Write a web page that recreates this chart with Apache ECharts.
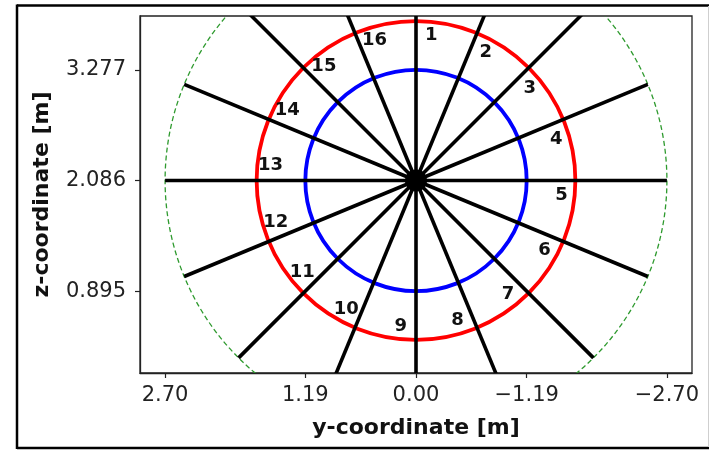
<!DOCTYPE html>
<html>
<head>
<meta charset="utf-8">
<script src="https://cdn.jsdelivr.net/npm/echarts@6/dist/echarts.min.js"></script>
<style>
  html, body { margin: 0; padding: 0; background: #ffffff; }
  #chart { width: 713px; height: 450px; }
</style>
</head>
<body>
<div id="chart"></div>
<script>
// Cross-section geometry (metres)
const sectionCenter = [0, 2.086];          // [y, z] of the centre
const innerRadius = 1.191;                 // blue ring
const outerRadius = 1.715;                 // red ring
const boundaryRadius = 2.70;               // green dashed boundary
const rayLength = 2.70;                    // length of each numbered ray
const rayIds = [1, 2, 3, 4, 5, 6, 7, 8, 9, 10, 11, 12, 13, 14, 15, 16];
const rayStepDeg = 22.5;                   // angular spacing of the rays

// Axis ranges and tick positions
const yCoordRange = [-2.97, 2.97];
const zCoordRange = [0.014, 3.856];
const yCoordTicks = [2.70, 1.191, 0, -1.191, -2.70];
const zCoordTicks = [0.895, 2.086, 3.277];

// Ray label placement (radius in metres, angular shift in degrees)
const labelRadius = 1.575;
const labelShiftDeg = 6;

const FONT = 'DejaVu Sans';
const toRad = d => d * Math.PI / 180;

// angle measured clockwise from "up"; the horizontal axis is inverted,
// so screen-right corresponds to negative y-coordinate
function polarPoint(r, deg) {
  return [sectionCenter[0] - r * Math.sin(toRad(deg)),
          sectionCenter[1] + r * Math.cos(toRad(deg))];
}

function fmtTick(v, d) {
  const s = Math.abs(v).toFixed(d);
  return (v < -1e-9 ? '\u2212' : '') + s;
}

function ringSeries(radius, color, width, dash) {
  return {
    type: 'custom',
    clip: true,
    data: [[sectionCenter[0], sectionCenter[1], radius]],
    renderItem: function (params, api) {
      const p = api.coord([api.value(0), api.value(1)]);
      const r = api.size([api.value(2), 0])[0];
      return {
        type: 'circle',
        shape: { cx: p[0], cy: p[1], r: r },
        style: { fill: 'none', stroke: color, lineWidth: width, lineDash: dash }
      };
    }
  };
}

const chart = echarts.init(document.getElementById('chart'), null, { renderer: 'canvas' });

const option = {
  animation: false,
  backgroundColor: '#ffffff',
  grid: {
    left: 140, right: 21, top: 16, bottom: 77,
    show: true,
    borderColor: '#222222',
    borderWidth: 1.3
  },
  xAxis: {
    type: 'value',
    inverse: true,
    min: yCoordRange[0],
    max: yCoordRange[1],
    splitLine: { show: false },
    axisLine: { show: true, onZero: false, lineStyle: { color: '#222222', width: 1.3 } },
    axisTick: { show: true, customValues: yCoordTicks, length: 5, lineStyle: { color: '#222222', width: 1.2 } },
    axisLabel: {
      customValues: yCoordTicks,
      formatter: v => fmtTick(v, 2),
      fontFamily: FONT, fontSize: 21, color: '#222222', margin: 12
    },
    name: 'y-coordinate [m]',
    nameLocation: 'middle',
    nameGap: 55,
    nameTextStyle: { fontFamily: FONT, fontSize: 22, fontWeight: 'bold', color: '#111111', verticalAlign: 'middle' }
  },
  yAxis: {
    type: 'value',
    min: zCoordRange[0],
    max: zCoordRange[1],
    splitLine: { show: false },
    axisLine: { show: true, onZero: false, lineStyle: { color: '#222222', width: 1.3 } },
    axisTick: { show: true, customValues: zCoordTicks, length: 5, lineStyle: { color: '#222222', width: 1.2 } },
    axisLabel: {
      customValues: zCoordTicks,
      formatter: v => fmtTick(v, 3),
      fontFamily: FONT, fontSize: 21, color: '#222222', margin: 14
    },
    name: 'z-coordinate [m]',
    nameLocation: 'middle',
    nameGap: 98,
    nameRotate: 90,
    nameTextStyle: { fontFamily: FONT, fontSize: 22, fontWeight: 'bold', color: '#111111', verticalAlign: 'middle' }
  },
  series: [
    ringSeries(boundaryRadius, '#2e9a2e', 1.3, [5, 3]),
    ringSeries(innerRadius, '#0000ff', 3.8, null),
    ringSeries(outerRadius, '#ff0000', 3.8, null),
    {
      // numbered rays from the centre
      type: 'custom',
      clip: true,
      data: rayIds.map(id => [id, (id - 1) * rayStepDeg]),
      renderItem: function (params, api) {
        const a = api.coord(sectionCenter);
        const b = api.coord(polarPoint(rayLength, api.value(1)));
        return {
          type: 'line',
          shape: { x1: a[0], y1: a[1], x2: b[0], y2: b[1] },
          style: { stroke: '#000000', lineWidth: 3.6 }
        };
      }
    },
    {
      // solid hub where the rays meet
      type: 'custom',
      data: [[sectionCenter[0], sectionCenter[1]]],
      renderItem: function (params, api) {
        const p = api.coord([api.value(0), api.value(1)]);
        return {
          type: 'circle',
          shape: { cx: p[0], cy: p[1], r: 11 },
          style: { fill: '#000000' }
        };
      }
    },
    {
      // ray numbers
      type: 'custom',
      data: rayIds.map(id => [id, (id - 1) * rayStepDeg]),
      renderItem: function (params, api) {
        const p = api.coord(polarPoint(labelRadius, api.value(1) + labelShiftDeg));
        return {
          type: 'text',
          x: p[0], y: p[1],
          style: {
            text: String(api.value(0)),
            fontFamily: FONT, fontSize: 18, fontWeight: 'bold',
            fill: '#111111', align: 'center', verticalAlign: 'middle'
          }
        };
      }
    }
  ],
  graphic: [
    // figure frame
    { type: 'line', shape: { x1: 17, y1: 5.5, x2: 709, y2: 5.5 }, style: { stroke: '#000000', lineWidth: 2.5 } },
    { type: 'line', shape: { x1: 17, y1: 448, x2: 709, y2: 448 }, style: { stroke: '#000000', lineWidth: 2.5 } },
    { type: 'line', shape: { x1: 17, y1: 4.5, x2: 17, y2: 449 }, style: { stroke: '#000000', lineWidth: 2.5 } },
    { type: 'line', shape: { x1: 708.5, y1: 6, x2: 708.5, y2: 447 }, style: { stroke: '#cfcfcf', lineWidth: 1 } }
  ]
};

chart.setOption(option);
</script>
</body>
</html>
